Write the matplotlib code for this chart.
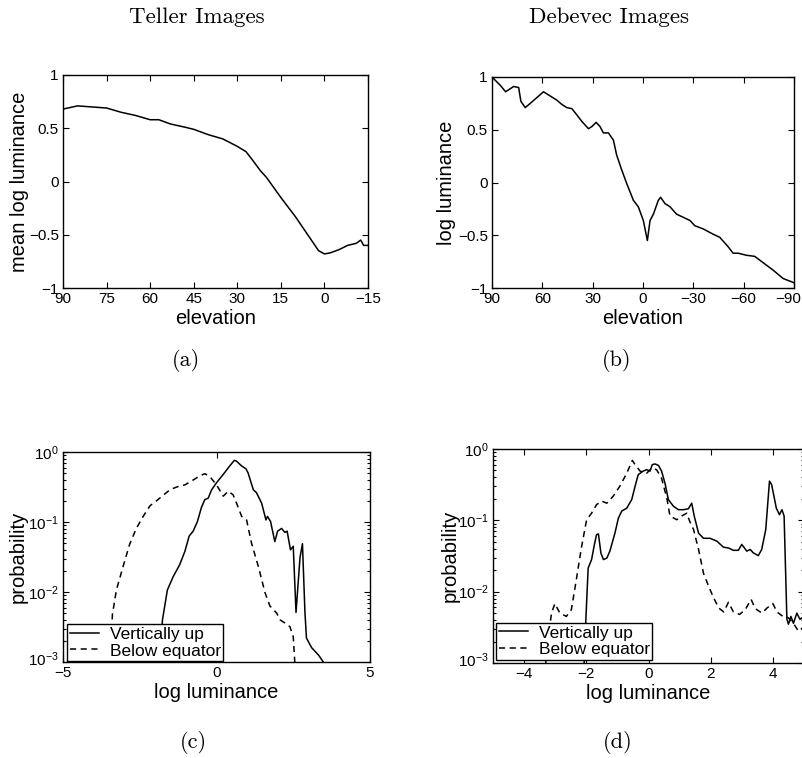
import matplotlib
matplotlib.use("Agg")
import matplotlib.pyplot as plt
from matplotlib.ticker import LogLocator, NullFormatter, FixedLocator
from matplotlib.transforms import ScaledTranslation

plt.rcParams['font.family'] = ['Liberation Sans', 'DejaVu Sans']
plt.rcParams['mathtext.fontset'] = 'custom'
plt.rcParams['mathtext.rm'] = 'Liberation Sans'
plt.rcParams['mathtext.it'] = 'Liberation Sans:italic'
plt.rcParams['axes.linewidth'] = 1.0

# ---------------- data ----------------
# (a) Teller images: mean log luminance vs elevation
teller_elev = [90, 85, 80, 75, 70, 65, 60, 57, 53, 48, 45, 40, 35, 30, 27, 25, 22, 20,
               15, 10, 7, 5, 2, 0, -2, -5, -8, -11, -12.5, -13.5, -15]
teller_lum = [0.68, 0.71, 0.70, 0.69, 0.65, 0.62, 0.58, 0.58, 0.54, 0.51, 0.49, 0.44, 0.40,
              0.33, 0.28, 0.21, 0.10, 0.04, -0.15, -0.33, -0.45, -0.53, -0.65, -0.68, -0.67,
              -0.64, -0.60, -0.58, -0.55, -0.60, -0.60]

# (b) Debevec images: log luminance vs elevation
debevec_elev = [90, 85.0, 81.9, 77.1, 74.1, 72.8, 70.2, 67.2, 59.3, 56.3, 51.3, 48.4, 45.4,
                42.4, 39.4, 36.5, 32.5, 30.5, 27.9, 25.6, 23.6, 20.6, 17.6, 15.7, 12.7, 9.7,
                5.7, 2.8, -0.2, -2.6, -4.2, -6.2, -9.1, -10.5, -13.1, -16.1, -20.0, -24.0,
                -28.0, -30.9, -35.9, -41.8, -45.8, -50.8, -53.7, -56.7, -61.7, -66.6, -71.6,
                -77.5, -83.5, -90]
debevec_lum = [1.0, 0.92, 0.86, 0.91, 0.90, 0.77, 0.71, 0.75, 0.86, 0.83, 0.78, 0.74, 0.71,
               0.70, 0.64, 0.58, 0.51, 0.53, 0.57, 0.53, 0.47, 0.47, 0.40, 0.26, 0.12, -0.01,
               -0.17, -0.23, -0.36, -0.55, -0.36, -0.30, -0.17, -0.14, -0.20, -0.23, -0.30,
               -0.33, -0.36, -0.41, -0.44, -0.49, -0.52, -0.61, -0.67, -0.67, -0.69, -0.70,
               -0.76, -0.83, -0.91, -0.95]

# (c) Teller histograms
c_up_x = [-1.88, -1.85, -1.76, -1.60, -1.41, -1.20, -1.03, -0.89, -0.76, -0.62, -0.49, -0.38,
          -0.27, -0.16, 0.0, 0.22, 0.43, 0.58, 0.65, 0.82, 0.96, 1.03, 1.20, 1.30, 1.47, 1.61,
          1.66, 1.76, 1.90, 1.99, 2.12, 2.23, 2.30, 2.41, 2.50, 2.59, 2.72, 2.80, 2.88, 2.93,
          3.10, 3.32, 3.48, 3.55]
c_up_p = [0.0008, 0.0010, 0.0040, 0.0107, 0.0166, 0.0245, 0.038, 0.063, 0.074, 0.102, 0.162,
          0.209, 0.219, 0.288, 0.363, 0.479, 0.631, 0.759, 0.741, 0.631, 0.575, 0.501, 0.288,
          0.263, 0.186, 0.107, 0.120, 0.102, 0.0525, 0.074, 0.081, 0.071, 0.074, 0.040, 0.045,
          0.0051, 0.031, 0.049, 0.0052, 0.0022, 0.0016, 0.00126, 0.0010, 0.0008]
c_below_x = [-3.48, -3.39, -3.26, -3.04, -2.83, -2.61, -2.39, -2.17, -1.96, -1.74, -1.52, -1.30,
             -1.03, -0.76, -0.54, -0.38, -0.22, 0.0, 0.22, 0.38, 0.54, 0.67, 0.82, 0.98, 1.14,
             1.36, 1.58, 1.74, 1.85, 1.96, 2.07, 2.23, 2.39, 2.50, 2.55, 2.57]
c_below_p = [0.0007, 0.0048, 0.0107, 0.0234, 0.0479, 0.0813, 0.120, 0.170, 0.200, 0.240, 0.288,
             0.316, 0.339, 0.398, 0.457, 0.490, 0.447, 0.339, 0.234, 0.275, 0.245, 0.178, 0.120,
             0.107, 0.050, 0.0234, 0.0098, 0.0063, 0.0056, 0.0050, 0.0040, 0.0036, 0.0032,
             0.0023, 0.0010, 0.0006]

# (d) Debevec histograms
d_up_x = [-2.09, -2.07, -2.01, -1.94, -1.83, -1.74, -1.67, -1.61, -1.53, -1.45, -1.34, -1.24,
          -1.08, -0.97, -0.86, -0.70, -0.54, -0.43, -0.33, -0.17, -0.06, 0.05, 0.12, 0.21, 0.32,
          0.42, 0.53, 0.64, 0.80, 0.96, 1.12, 1.28, 1.39, 1.47, 1.61, 1.77, 1.98, 2.20, 2.41,
          2.57, 2.73, 2.89, 3.00, 3.16, 3.27, 3.37, 3.53, 3.64, 3.77, 3.89, 3.96, 4.11, 4.21,
          4.29, 4.36, 4.45, 4.50, 4.58, 4.66, 4.77, 4.87, 4.93, 5.0]
d_up_p = [0.0007, 0.0010, 0.0045, 0.0214, 0.0282, 0.0457, 0.063, 0.0646, 0.0347, 0.0282,
          0.0295, 0.0372, 0.066, 0.107, 0.135, 0.148, 0.195, 0.302, 0.437, 0.490, 0.513, 0.490,
          0.603, 0.617, 0.589, 0.490, 0.331, 0.195, 0.158, 0.141, 0.141, 0.145, 0.174, 0.115,
          0.066, 0.056, 0.056, 0.051, 0.042, 0.041, 0.038, 0.038, 0.046, 0.037, 0.039, 0.035,
          0.032, 0.039, 0.074, 0.355, 0.316, 0.148, 0.120, 0.141, 0.115, 0.0041, 0.0035, 0.0045,
          0.0036, 0.0050, 0.0041, 0.0043, 0.0038]
d_below_x = [-3.35, -3.28, -3.12, -3.01, -2.85, -2.64, -2.48, -2.32, -2.16, -1.99, -1.83, -1.67,
             -1.51, -1.34, -1.13, -0.92, -0.70, -0.52, -0.43, -0.27, -0.06, 0.10, 0.26, 0.42,
             0.59, 0.69, 0.91, 1.07, 1.23, 1.32, 1.45, 1.61, 1.77, 1.94, 2.10, 2.26, 2.42, 2.57,
             2.73, 2.93, 3.11, 3.30, 3.43, 3.65, 3.81, 4.00, 4.13, 4.32, 4.50, 4.66, 4.82, 4.95]
d_below_p = [0.0005, 0.0014, 0.0050, 0.0068, 0.0050, 0.0045, 0.0056, 0.0148, 0.0407, 0.102,
             0.126, 0.166, 0.186, 0.174, 0.219, 0.302, 0.457, 0.692, 0.603, 0.490, 0.457, 0.537,
             0.513, 0.389, 0.204, 0.115, 0.102, 0.115, 0.126, 0.098, 0.074, 0.039, 0.018, 0.0117,
             0.0081, 0.0059, 0.0052, 0.0071, 0.0052, 0.0048, 0.0056, 0.0078, 0.0058, 0.0050,
             0.0059, 0.0068, 0.0052, 0.0045, 0.0043, 0.0036, 0.0028, 0.0031]

titles = ["Teller Images", "Debevec Images"]
captions = ["(a)", "(b)", "(c)", "(d)"]
legend_labels = ["Vertically up", "Below equator"]

# ---------------- figure ----------------
W, H = 802, 758
fig = plt.figure(figsize=(W / 100, H / 100), dpi=100)


def ax_px(x0, y0, x1, y1):
    return fig.add_axes([x0 / W, 1 - y1 / H, (x1 - x0) / W, (y1 - y0) / H])


def nudge(label, dx_px, dy_px):
    label.set_transform(label.get_transform() +
                        ScaledTranslation(dx_px / 100, dy_px / 100, fig.dpi_scale_trans))


TICK_FS = 11
LABEL_FS = 14.5
SERIF = 'cmr10'
LW = 1.1
DASH = (0, (4, 3))


def style(ax):
    ax.tick_params(which='both', direction='in', top=True, right=True,
                   labelsize=TICK_FS, width=0.8, pad=3)
    ax.tick_params(which='major', length=4)
    ax.tick_params(which='minor', length=2)


# (a)
axa = ax_px(63, 75, 368, 288)
axa.plot(teller_elev, teller_lum, color='black', lw=LW)
axa.set_xlim(90, -15)
axa.set_ylim(-1, 1)
axa.set_xticks([90, 75, 60, 45, 30, 15, 0, -15])
axa.set_yticks([-1, -0.5, 0, 0.5, 1])
axa.set_yticklabels(['\u22121', '\u22120.5', '0', '0.5', '1'])
axa.set_xlabel('elevation', fontsize=LABEL_FS)
axa.set_ylabel('mean log luminance', fontsize=LABEL_FS)
style(axa)
axa.xaxis.set_label_coords(0.5, -0.10)
axa.yaxis.set_label_coords(-0.112, 0.5)

# (b)
axb = ax_px(492, 77, 794, 288)
axb.plot(debevec_elev, debevec_lum, color='black', lw=LW)
axb.set_xlim(90, -90)
axb.set_ylim(-1, 1)
axb.set_xticks([90, 60, 30, 0, -30, -60, -90])
axb.set_yticks([-1, -0.5, 0, 0.5, 1])
axb.set_yticklabels(['\u22121', '\u22120.5', '0', '0.5', '1'])
axb.set_xlabel('elevation', fontsize=LABEL_FS)
axb.set_ylabel('log luminance', fontsize=LABEL_FS)
style(axb)
axb.xaxis.set_label_coords(0.5, -0.10)
axb.yaxis.set_label_coords(-0.12, 0.5)
nudge(axb.get_xticklabels()[-1], -6, 0)


def hist_axes(ax, xs_up, ps_up, xs_b, ps_b, xlim, xticks, anchor, ylab_x):
    ax.set_yscale('log')
    ax.plot(xs_up, ps_up, color='black', lw=LW, label=legend_labels[0])
    ax.plot(xs_b, ps_b, color='black', lw=LW, linestyle=DASH, label=legend_labels[1])
    ax.set_xlim(*xlim)
    ax.set_ylim(1e-3, 1)
    ax.set_xticks(xticks)
    ax.yaxis.set_major_locator(FixedLocator([1e-3, 1e-2, 1e-1, 1]))
    ax.yaxis.set_minor_locator(LogLocator(base=10, subs=range(2, 10), numticks=20))
    ax.yaxis.set_minor_formatter(NullFormatter())
    ax.set_xlabel('log luminance', fontsize=LABEL_FS)
    ax.set_ylabel('probability', fontsize=LABEL_FS)
    style(ax)
    ax.xaxis.set_label_coords(0.5, -0.10)
    ax.yaxis.set_label_coords(ylab_x, 0.5)
    nudge(ax.get_yticklabels()[0], 0, 4)
    leg = ax.legend(loc='lower left', bbox_to_anchor=anchor, fontsize=12.5,
                    frameon=True, fancybox=False, framealpha=1, edgecolor='black',
                    handlelength=1.7, handletextpad=0.6, borderpad=0.15,
                    labelspacing=0.1, borderaxespad=0.0)
    leg.get_frame().set_linewidth(1.0)


# (c)
axc = ax_px(63, 452, 370, 662)
hist_axes(axc, c_up_x, c_up_p, c_below_x, c_below_p, (-5, 5), [-5, 0, 5],
          (0.013, 0.004), -0.114)

# (d)
axd = ax_px(493, 449, 804, 663)
hist_axes(axd, d_up_x, d_up_p, d_below_x, d_below_p, (-5, 5), [-4, -2, 0, 2, 4],
          (0.01, 0.014), -0.106)

# titles and captions
fig.text(197 / W, 1 - 17 / H, titles[0], fontsize=16.5, family=SERIF, ha='center', va='center')
fig.text(609 / W, 1 - 17 / H, titles[1], fontsize=16.5, family=SERIF, ha='center', va='center')
fig.text(186 / W, 1 - 361 / H, captions[0], fontsize=16, family=SERIF, ha='center', va='center')
fig.text(617 / W, 1 - 361 / H, captions[1], fontsize=16, family=SERIF, ha='center', va='center')
fig.text(193 / W, 1 - 743 / H, captions[2], fontsize=16, family=SERIF, ha='center', va='center')
fig.text(618 / W, 1 - 743 / H, captions[3], fontsize=16, family=SERIF, ha='center', va='center')

fig.savefig('out.png', dpi=100)
